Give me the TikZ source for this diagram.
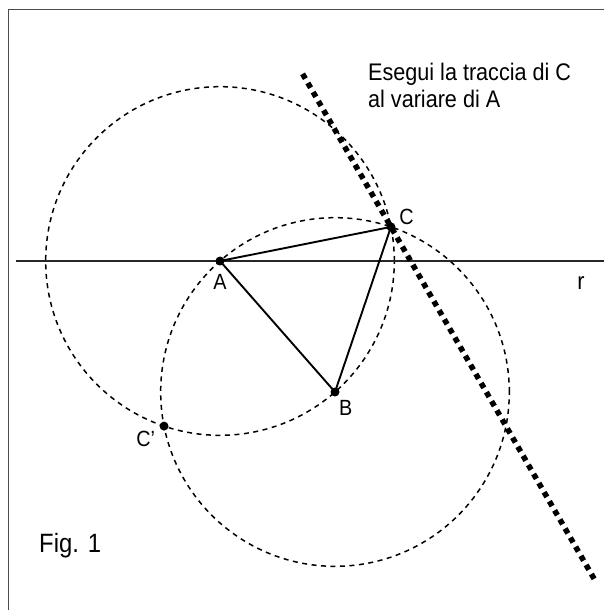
\documentclass[tikz,border=0pt]{standalone}
\usepackage{fontspec}
\setmainfont{Liberation Sans}[FakeStretch=0.9]
\usetikzlibrary{calc,positioning}

\begin{document}
\begin{tikzpicture}[
    x=1pt, y=-1pt,
    frame/.style={draw=black!70, line width=1.4pt},
    retta/.style={line width=2pt, black!85},
    side/.style={line width=1.9pt},
    arcs/.style={line width=1.5pt, dash pattern=on 5pt off 4.5pt},
    locus/.style={line width=5.5pt, dash pattern=on 5.5pt off 5pt},
    pt/.style={circle, fill, inner sep=0pt, minimum size=9pt},
    lbl/.style={inner sep=0pt, font=\fontsize{22}{22}\selectfont},
    note/.style={inner sep=0pt, align=left, font=\fontsize{24}{27}\selectfont}
]
\clip (0,0) rectangle (604,610);
\fill[white] (0,0) rectangle (604,610);
\draw[frame] (8.5,9.5) rectangle (620,630);

% construction points
\coordinate (A) at (220,261);
\coordinate (B) at (335,392);
\coordinate (C) at ($(B)!1!-60:(A)$);
\coordinate (Cp) at ($(B)!1!60:(A)$);
\coordinate (R1) at (16,261);
\coordinate (R2) at (610,261);
% trace of C: r turned about B
\coordinate (L1) at ($(B)!1!-60:(R1)$);
\coordinate (L2) at ($(B)!1!-60:(R2)$);
\coordinate (T1) at ($(L1)!0.046!(L2)$);
\coordinate (T2) at ($(L1)!1.034!(L2)$);

\draw[arcs] let \p1=($(C)-(A)$), \n1={veclen(\x1,\y1)} in (A) circle [radius=\n1];
\draw[arcs] let \p1=($(A)-(B)$), \n1={veclen(\x1,\y1)} in (B) circle [radius=\n1];
\draw[retta] (R1) -- (R2);
\draw[locus] (T1) -- (T2);
\draw[side] (A) -- (C) -- (B) -- cycle;

\node[pt] (dA) at (A) {};
\node[pt] (dB) at (B) {};
\node[pt] (dC) at (C) {};
\node[pt] (dCp) at (Cp) {};

\node[lbl, below=8.5pt of dA] (lA) {A};
\node[lbl, below right=4.5pt and 0.5pt of dB] (lB) {B};
\node[lbl, above right=-1.5pt and 5pt of dC] (lC) {C};
\node[lbl, below left=1.5pt and 5.5pt of dCp] (lCp) {C'};
\node[lbl, anchor=base, font=\fontsize{24}{24}\selectfont] (lr) at (581,289) {r};

\node[note, anchor=north west] (task) at (368,63) {Esegui la traccia di C\\al variare di A};
\node[lbl, anchor=base west, font=\fontsize{26.5}{26.5}\selectfont] (fig) at (39,552) {Fig. 1};
\end{tikzpicture}
\end{document}
